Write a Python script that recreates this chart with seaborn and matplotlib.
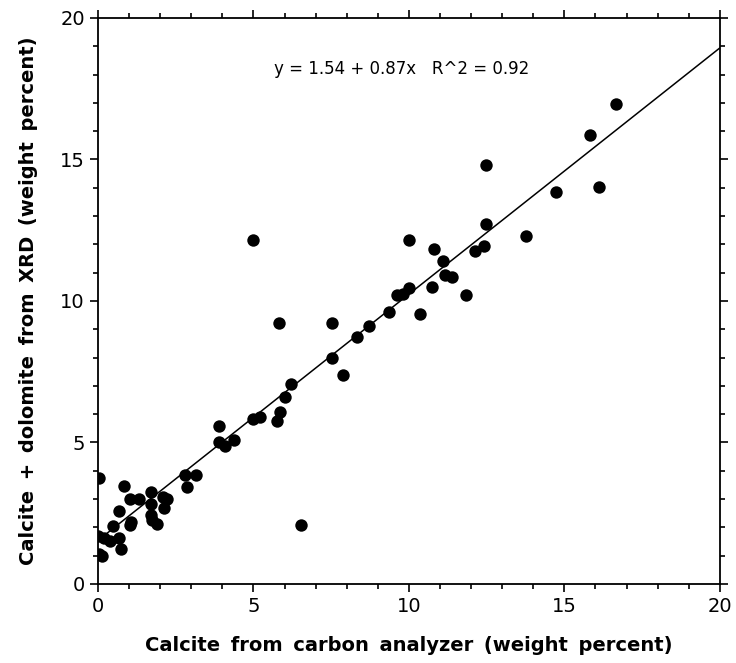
import numpy as np
import pandas as pd
import matplotlib
matplotlib.use('Agg')
import matplotlib.pyplot as plt
from matplotlib.ticker import MultipleLocator
import seaborn as sns

# Valores (porcentaje en peso)
calcite_carbon = [0.02, 0.00, 0.18, 0.40, 0.69, 0.75, 0.02, 0.13, 0.49, 0.69,
                  0.84, 1.04, 1.33, 1.07, 1.04, 1.69, 1.69, 1.71, 1.74, 1.89,
                  2.10, 2.23, 2.12, 2.81, 3.15, 2.87, 3.90, 3.88, 4.10, 4.38,
                  4.99, 5.21, 5.77, 5.85, 6.02, 6.22, 4.99, 6.52, 5.83, 7.52,
                  7.52, 7.89, 8.33, 8.70, 9.35, 9.62, 9.82, 10.01, 10.35, 10.73,
                  11.83, 10.00, 10.81, 11.10, 11.17, 11.40, 12.11, 12.41, 12.48, 12.48,
                  13.78, 14.73, 16.11, 15.82, 16.66]
calcite_dolomite_xrd = [3.76, 1.69, 1.61, 1.53, 1.64, 1.22, 1.05, 0.98, 2.04, 2.58,
                        3.46, 2.99, 3.02, 2.19, 2.08, 3.25, 2.84, 2.43, 2.26, 2.12,
                        3.08, 3.02, 2.70, 3.84, 3.84, 3.43, 5.58, 5.00, 4.88, 5.09,
                        5.82, 5.89, 5.75, 6.08, 6.61, 7.06, 12.17, 2.10, 9.23, 9.23,
                        8.00, 7.38, 8.72, 9.12, 9.61, 10.20, 10.26, 10.45, 9.54, 10.48,
                        10.22, 12.17, 11.82, 11.42, 10.92, 10.83, 11.77, 11.94, 12.71, 14.79,
                        12.31, 13.84, 14.02, 15.86, 16.95]

# Recta de regresión indicada en el gráfico
intercept = 1.54
slope = 0.87
r2 = 0.92
fit_range = [0, 20]

df = pd.DataFrame({'carbon': calcite_carbon, 'xrd': calcite_dolomite_xrd})

sns.set_style('ticks')
plt.rcParams['font.family'] = ['DejaVu Sans']
plt.rcParams['text.color'] = 'black'
plt.rcParams['axes.labelcolor'] = 'black'

fig = plt.figure(figsize=(7.36, 6.63), dpi=100)
ax = fig.add_axes([0.1332, 0.1192, 0.8448, 0.8537])

sns.scatterplot(data=df, x='carbon', y='xrd', color='black', s=80,
                edgecolor='black', linewidth=0, ax=ax, zorder=3)

x_fit = np.array(fit_range, dtype=float)
ax.plot(x_fit, intercept + slope * x_fit, color='black', linewidth=1.1, zorder=2)

ax.text(9.76, 18.18, f'y = {intercept:.2f} + {slope:.2f}x   R^2 = {r2:.2f}',
        ha='center', va='center', fontsize=12, color='black')

ax.set_xlim(0, 20)
ax.set_ylim(0, 20)
ax.xaxis.set_major_locator(MultipleLocator(5))
ax.yaxis.set_major_locator(MultipleLocator(5))
ax.xaxis.set_minor_locator(MultipleLocator(1))
ax.yaxis.set_minor_locator(MultipleLocator(1))
ax.tick_params(which='both', direction='out', top=True, right=True,
               colors='black', width=1.2, labelsize=14)
ax.tick_params(which='major', length=6)
ax.tick_params(which='minor', length=3.5)
for side in ax.spines.values():
    side.set_visible(True)
    side.set_linewidth(1.3)
    side.set_color('black')

gap = ' \u2009'
ax.set_xlabel(gap.join(['Calcite', 'from', 'carbon', 'analyzer', '(weight', 'percent)']),
              fontsize=14, fontweight='bold', labelpad=14)
ax.set_ylabel(gap.join(['Calcite', '+', 'dolomite', 'from', 'XRD', '(weight', 'percent)']),
              fontsize=14, fontweight='bold', labelpad=16)

plt.savefig('out.png', dpi=100)
